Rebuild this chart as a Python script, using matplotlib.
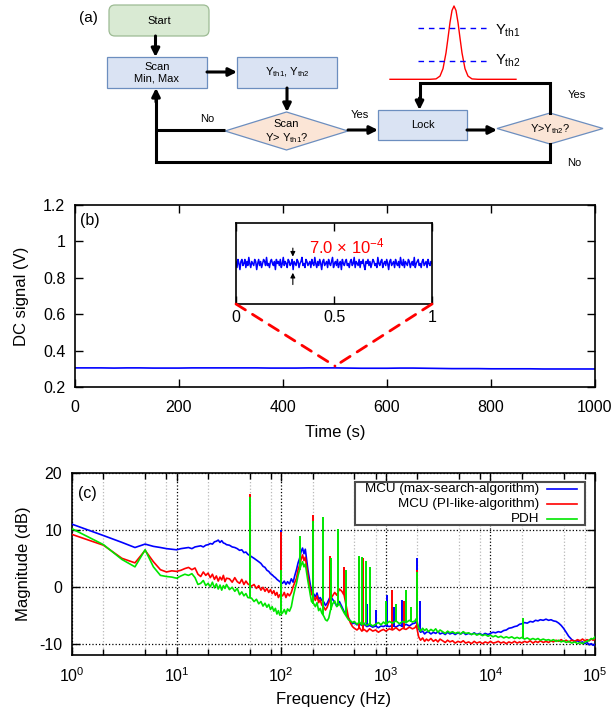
import matplotlib
matplotlib.use('Agg')
import matplotlib.pyplot as plt
import numpy as np
from matplotlib.patches import FancyBboxPatch, Polygon, Rectangle, ConnectionPatch
from matplotlib.ticker import LogLocator, NullFormatter, LogFormatterMathtext

plt.rcParams['font.family'] = ['Liberation Sans', 'DejaVu Sans']
plt.rcParams['mathtext.fontset'] = 'custom'
plt.rcParams['mathtext.rm'] = 'Liberation Sans'
plt.rcParams['mathtext.it'] = 'Liberation Sans:italic'
plt.rcParams['mathtext.bf'] = 'Liberation Sans:bold'
plt.rcParams['axes.unicode_minus'] = False

# ---------------- DATA ----------------
# (a) sketch of the transmission peak with the two thresholds
pulse_x = [390, 430, 436, 440, 443, 446, 448, 450, 452, 454, 456, 458, 460, 462, 465, 468, 472, 478, 516]
pulse_y = [79.3, 79.3, 78.9, 76.1, 68.7, 52.9, 38.0, 22.5, 10.5, 6.0, 10.5, 22.5, 38.0, 52.9, 68.7, 76.1, 78.9, 79.3, 79.3]

# (b) DC signal over 1000 s, one value every 25 s
dc_signal = [0.305, 0.305, 0.305, 0.304, 0.305, 0.305, 0.304, 0.304, 0.304, 0.305,
             0.305, 0.305, 0.305, 0.305, 0.305, 0.304, 0.304, 0.304, 0.305, 0.305,
             0.305, 0.304, 0.303, 0.303, 0.303, 0.304, 0.304, 0.303, 0.302, 0.301,
             0.301, 0.301, 0.300, 0.300, 0.300, 0.300, 0.299, 0.299, 0.299, 0.299, 0.299]
time_ticks = [0, 200, 400, 600, 800, 1000]
dc_ticks = [0.2, 0.4, 0.6, 0.8, 1.0, 1.2]
dc_tick_labels = ['0.2', '0.4', '0.6', '0.8', '1', '1.2']

# inset: 1 s zoom, deviation in units of 1e-4 V around 0.305 V
inset_dev = [1, -2, 2, 0, -3, 1, 2, -1, 0, 2, -2, 1, -1, 3, 0, -2, 1, 0, -1, 2,
             1, -3, 0, 2, -1, 1, -2, 0, 2, 1, -1, 3, -1, 0, -2, 1, 2, 0, -1, 1,
             -3, 2, 0, 1, -1, 2, -2, 0, 3, -1, 1, 0, -2, 2, 1, -1, 0, 2, -3, 1,
             0, -1, 2, 1, -2, 0, 1, 3, -1, 0, -2, 2, 1, -1, 0, 1, -2, 2, 0, -1,
             3, 0, -2, 1, -1, 2, 0, -3, 1, 2, -1, 0, 1, -2, 2, 0, -1, 1, 3, -2,
             0, 1, -1, 2, -2, 0, 1, -3, 2, 0, -1, 1, 2, -1, 0, -2, 1, 2, -1, 0,
             3, -2, 1, 0, -1, 2, -2, 1, 0, 2, -1, -3, 1, 0, 2, -1, 1, -2, 0, 2,
             1, -1, 0, -2, 3, 0, -1, 1, 2, -2, 0, 1, -1, 2, 0, -3, 1, 2, -1, 0,
             1, -2, 2, 0, -1, 1, -2, 3, 0, -1, 2, -2, 1, 0, -1, 2, 1, -2, 0, 1,
             -1, 3, -2, 0, 1, 2, -1, 0, -2, 1, 2, -1, 0, 1, -2, 2, 0, -1, 1, 0]

# (c) noise spectra
freq = [1, 2, 3, 4, 5, 6, 7, 8, 9, 10,
        11, 12, 13, 14, 15, 16, 17, 18, 19, 20,
        21, 22, 23, 24, 25, 26, 27, 28, 29, 30,
        32, 34, 36, 38, 40, 42, 44, 46, 48, 52,
        55, 58, 61, 64, 67, 70, 73, 76, 79, 82,
        85, 88, 91, 94, 97, 103, 107, 111, 115, 120,
        125, 130, 135, 140, 145, 150, 155, 160, 165, 170,
        175, 180, 185, 190, 195, 205, 212, 220, 228, 236,
        244, 256, 265, 275, 285, 295, 310, 325, 340, 360,
        380, 400, 420, 440, 460, 480, 500, 530, 560, 590,
        620, 660, 700, 750, 800, 850, 900, 950, 1000, 1080,
        1160, 1250, 1350, 1450, 1560, 1680, 1800, 1900, 1960, 2060,
        2150, 2250, 2350, 2450, 2550, 2700, 2850, 3000, 3150, 3300,
        3500, 3700, 3900, 4100, 4350, 4600, 4900, 5200, 5500, 5800,
        6200, 6600, 7000, 7400, 7900, 8400, 8900, 9500, 10000, 10600,
        11200, 11900, 12600, 13400, 14200, 15000, 16000, 17000, 18000, 19000,
        20000, 21200, 22500, 24000, 25500, 27000, 28500, 30000, 32000, 34000,
        36000, 38000, 40000, 42500, 45000, 47500, 50000, 53000, 56000, 60000,
        64000, 68000, 72000, 76000, 80000, 84000, 88000, 92000, 96000, 100000]

mag_max_search = [11.0, 9.0, 7.8, 6.9, 7.5, 7.1, 6.9, 6.7, 6.6, 6.5,
                  6.7, 6.8, 6.9, 6.7, 7.0, 7.1, 7.2, 7.0, 7.3, 7.4,
                  7.6, 7.5, 7.9, 8.0, 8.2, 7.8, 8.1, 7.7, 7.6, 7.4,
                  7.3, 7.0, 6.9, 6.7, 6.4, 6.5, 6.0, 6.1, 5.7, 5.3,
                  5.0, 4.7, 4.4, 4.1, 3.6, 3.4, 2.9, 2.7, 2.3, 2.1,
                  1.8, 1.6, 1.3, 1.1, 0.9, 0.6, 1.0, 0.4, 0.9, 0.5,
                  1.4, 0.8, 2.0, 3.0, 4.2, 5.0, 6.2, 6.8, 5.8, 6.6,
                  4.8, 3.0, 1.6, 0.3, -0.8, -1.3, -1.8, -1.1, -2.2, -1.9,
                  -2.4, -2.7, -3.3, -2.9, -2.3, -1.7, -2.2, -2.8, -3.4, -2.6,
                  -3.5, -4.4, -5.0, -5.5, -6.1, -6.5, -6.3, -6.7, -6.5, -6.8,
                  -6.6, -7.0, -6.8, -7.1, -6.9, -7.2, -6.9, -7.0, -6.8, -7.0,
                  -6.8, -7.1, -6.7, -7.0, -6.6, -6.9, -6.5, -6.4, -6.0, -7.4,
                  -8.0, -7.8, -8.3, -8.0, -7.9, -8.3, -8.0, -8.2, -7.9, -8.3,
                  -8.1, -8.4, -8.0, -8.3, -8.1, -8.4, -8.1, -8.3, -8.0, -8.4,
                  -8.2, -8.4, -8.1, -8.4, -8.2, -8.5, -8.2, -8.4, -8.2, -8.0,
                  -8.1, -7.9, -8.0, -7.7, -7.6, -7.3, -7.2, -7.0, -6.9, -6.6,
                  -6.5, -6.3, -6.4, -6.1, -6.2, -5.9, -6.0, -5.8, -5.9, -5.7,
                  -5.9, -5.8, -6.0, -6.1, -6.4, -6.8, -7.3, -8.0, -8.7, -9.3,
                  -9.6, -9.5, -9.8, -9.7, -10.0, -9.8, -10.2, -10.0, -10.3, -10.1]

mag_pi_like = [9.2, 7.3, 5.0, 4.2, 6.4, 4.4, 3.0, 2.6, 2.8, 2.7,
               2.9, 3.2, 3.4, 3.0, 3.3, 2.2, 1.8, 2.6, 2.0, 2.4,
               1.6, 2.2, 1.3, 1.9, 1.0, 1.7, 1.2, 2.0, 0.9, 1.5,
               1.4, 0.8, 1.6, 0.9, 0.6, 1.3, 0.4, 1.0, 0.5, 0.1,
               0.4, -0.3, 0.2, -0.6, -0.1, -0.8, -0.3, -1.0, -0.5, -1.2,
               -0.7, -1.5, -1.0, -1.9, -1.4, -1.6, -1.0, -1.9, -1.2, -1.6,
               -1.0, 0.0, 0.8, 1.5, 3.0, 3.8, 4.8, 5.6, 4.6, 5.2,
               3.5, 2.0, 0.6, -0.5, -1.3, -1.8, -2.4, -1.6, -2.8, -2.3,
               -3.2, -3.6, -4.1, -3.6, -2.8, -2.2, -1.6, -1.0, -1.5, -0.4,
               -0.8, -1.5, -3.5, -5.5, -6.4, -7.0, -7.3, -7.6, -7.2, -7.8,
               -7.5, -7.9, -7.4, -7.8, -7.6, -8.0, -7.7, -7.5, -7.8, -7.4,
               -7.6, -7.2, -7.7, -7.3, -7.5, -7.1, -7.4, -7.2, -6.8, -8.8,
               -9.4, -9.0, -9.6, -9.2, -9.5, -9.1, -9.6, -9.3, -9.7, -9.2,
               -9.5, -9.8, -9.4, -9.7, -9.5, -9.9, -9.6, -9.8, -9.5, -9.9,
               -9.7, -10.0, -9.6, -9.9, -9.7, -10.0, -9.7, -9.9, -9.6, -9.9,
               -9.8, -9.6, -9.9, -9.7, -10.0, -9.7, -9.9, -9.6, -9.9, -9.7,
               -9.9, -9.6, -9.8, -9.5, -9.9, -9.6, -9.8, -9.5, -9.8, -9.6,
               -9.8, -9.5, -9.7, -9.4, -9.6, -9.3, -9.6, -9.4, -9.7, -9.4,
               -9.6, -9.3, -9.5, -9.2, -9.5, -9.3, -9.5, -9.2, -9.4, -9.2]

mag_pdh = [10.2, 7.4, 4.8, 3.5, 6.5, 3.5, 2.0, 1.8, 1.7, 1.5,
           1.9, 2.2, 2.0, 2.3, 1.6, 0.4, 0.6, 1.1, 0.2, 0.6,
           0.0, 0.8, -0.2, 0.5, -0.4, 0.3, -0.6, 0.2, -0.3, 0.4,
           -0.5, -0.1, -0.8, -0.3, -1.4, -0.9, -1.6, -1.2, -1.9, -2.0,
           -2.6, -2.2, -3.0, -2.6, -3.4, -2.9, -3.6, -3.1, -4.0, -3.5,
           -4.3, -3.8, -4.8, -4.2, -5.0, -4.6, -4.0, -4.8, -3.9, -4.3,
           -3.5, -1.8, -0.5, 0.6, 2.0, 3.0, 3.8, 4.4, 3.5, 4.0,
           2.5, 1.0, -0.2, -1.5, -2.6, -3.0, -3.5, -2.8, -4.2, -3.8,
           -4.6, -5.2, -5.8, -6.0, -5.5, -4.2, -3.0, -2.5, -3.5, -3.0,
           -3.8, -4.6, -5.2, -5.8, -6.0, -6.3, -6.1, -6.6, -6.2, -6.7,
           -6.4, -6.8, -6.5, -6.9, -6.6, -6.3, -6.7, -6.2, -6.6, -6.1,
           -6.4, -6.0, -6.5, -6.1, -6.3, -5.9, -6.2, -6.0, -5.6, -7.2,
           -7.8, -7.3, -7.7, -7.4, -7.9, -7.5, -7.8, -7.4, -8.0, -7.6,
           -7.9, -8.2, -7.8, -8.1, -7.9, -8.2, -8.0, -8.3, -7.9, -8.2,
           -8.1, -8.4, -8.2, -8.5, -8.3, -8.6, -8.4, -8.7, -8.5, -8.8,
           -8.6, -8.9, -8.7, -9.0, -8.8, -9.0, -8.8, -9.1, -8.9, -9.1,
           -8.9, -9.2, -9.0, -9.3, -9.1, -9.3, -9.1, -9.4, -9.2, -9.4,
           -9.3, -9.5, -9.3, -9.6, -9.4, -9.7, -9.5, -9.8, -9.6, -9.9,
           -9.7, -10.0, -9.8, -10.0, -9.7, -9.6, -9.4, -9.1, -9.2, -8.8]

# narrow spectral lines: frequency, foot and top (dB)
spike_max_f = [50, 100, 660, 800, 1030, 1200, 1420, 1980, 2100]
spike_max_lo = [5.4, 0.8, -7.0, -7.0, -7.0, -7.0, -7.0, -6.5, -8.0]
spike_max_hi = [15.5, 10.0, -3.0, -4.0, -1.5, -3.5, -2.4, 5.1, -2.5]

spike_pi_f = [50, 100, 200, 290, 400, 560, 600, 1140, 1500, 1980]
spike_pi_lo = [0.3, -1.6, -1.5, -2.5, -1.5, -7.4, -7.6, -7.5, -7.3, -7.0]
spike_pi_hi = [16.3, 9.7, 12.6, 5.4, 3.5, 5.3, 5.0, -0.6, -2.5, 3.0]

spike_pdh_f = [50, 100, 150, 200, 250, 300, 350, 415, 550, 590, 640, 700, 1000, 1260, 1560, 1760, 1980, 20300]
spike_pdh_lo = [-2.0, -4.6, 3.0, -3.0, -5.0, -4.0, -3.0, -5.0, -6.3, -6.5, -6.4, -6.5, -6.5, -6.2, -6.2, -6.2, -6.0, -9.0]
spike_pdh_hi = [15.8, 3.0, 8.9, 11.5, 12.3, 5.0, 10.1, 2.9, 5.4, 5.2, 4.6, 3.5, -2.5, -3.0, -0.6, -3.5, 2.6, -5.5]

legend_labels = ['MCU (max-search-algorithm)', 'MCU (PI-like-algorithm)', 'PDH']
series_colors = ['#0000ff', '#ff0000', '#00e600']

# ---------------- FIGURE ----------------
W, H = 614, 711
fig = plt.figure(figsize=(W / 100, H / 100), dpi=100)


def px_axes(left, top, right, bottom):
    return fig.add_axes([left / W, 1 - bottom / H, (right - left) / W, (bottom - top) / H])


# ---- (a) flow chart, drawn in pixel coordinates ----
ax_a = px_axes(0, 0, W, 175)
ax_a.set_xlim(0, W)
ax_a.set_ylim(175, 0)
ax_a.axis('off')

box_fc, box_ec = '#dae3f3', '#6c8ebf'
dia_fc = '#fbe5d6'
LW = 2.2


def box(x0, y0, x1, y1, text, fc=box_fc, ec=box_ec, rounded=False):
    if rounded:
        p = FancyBboxPatch((x0, y0), x1 - x0, y1 - y0, boxstyle='round,pad=0,rounding_size=6',
                           fc=fc, ec=ec, lw=0.9)
    else:
        p = Rectangle((x0, y0), x1 - x0, y1 - y0, fc=fc, ec=ec, lw=0.9)
    ax_a.add_patch(p)
    ax_a.text((x0 + x1) / 2, (y0 + y1) / 2, text, ha='center', va='center', fontsize=8, linespacing=1.15)


def diamond(x0, y0, x1, y1, text):
    cx, cy = (x0 + x1) / 2, (y0 + y1) / 2
    ax_a.add_patch(Polygon([(x0, cy), (cx, y0), (x1, cy), (cx, y1)], closed=True,
                           fc=dia_fc, ec=box_ec, lw=0.9))
    ax_a.text(cx, cy + 1, text, ha='center', va='center', fontsize=8, linespacing=1.15)


def arrow(x0, y0, x1, y1):
    ax_a.annotate('', xy=(x1, y1), xytext=(x0, y0),
                  arrowprops=dict(arrowstyle='-|>', color='k', lw=LW, mutation_scale=12,
                                  shrinkA=0, shrinkB=0))


box(109, 5, 209, 36, 'Start', fc='#d9ead3', ec='#9dbb94', rounded=True)
box(107, 57, 207, 88, 'Scan\nMin, Max')
box(237, 57, 337, 88, r'Y$_{\mathregular{th1}}$, Y$_{\mathregular{th2}}$')
diamond(225, 112, 348, 150, 'Scan\n' + r'Y> Y$_{\mathregular{th1}}$?')
box(378, 110, 467, 140, 'Lock')
diamond(497, 113, 603, 144, r'Y>Y$_{\mathregular{th2}}$?')

arrow(155.5, 36, 155.5, 57)
arrow(207, 72, 237, 72)
arrow(287, 88, 287, 112)
arrow(348, 130, 378, 130)
arrow(467, 130, 497, 130)
# No branch of the first test and the final No branch back to "Scan"
ax_a.plot([225, 156], [130, 130], color='k', lw=LW, solid_capstyle='butt')
ax_a.plot([550, 550, 156, 156], [144, 162, 162, 100], color='k', lw=LW, solid_joinstyle='miter')
arrow(156, 102, 156, 88)
# Yes loop back to "Lock"
ax_a.plot([550, 550, 419.5, 419.5], [113, 83, 83, 100], color='k', lw=LW, solid_joinstyle='miter')
arrow(419.5, 98, 419.5, 110)

ax_a.text(207, 119, 'No', ha='center', va='center', fontsize=8)
ax_a.text(360, 115, 'Yes', ha='center', va='center', fontsize=8)
ax_a.text(577, 95, 'Yes', ha='center', va='center', fontsize=8)
ax_a.text(574, 163, 'No', ha='center', va='center', fontsize=8)
ax_a.text(88, 18, '(a)', ha='center', va='center', fontsize=11)

# peak sketch
ax_a.plot(pulse_x, pulse_y, color='red', lw=1)
ax_a.plot([418, 487], [28, 28], color='blue', lw=1, dashes=(4, 3.5))
ax_a.plot([418, 487], [61, 61], color='blue', lw=1, dashes=(4, 3.5))
ax_a.text(495, 31, r'Y$_{\mathregular{th1}}$', ha='left', va='center', fontsize=10.5)
ax_a.text(495, 61, r'Y$_{\mathregular{th2}}$', ha='left', va='center', fontsize=10.5)

# ---- (b) DC signal ----
TICK_FS = 11.5
LAB_FS = 12
ax_b = px_axes(75, 205, 595, 387)
time_s = np.arange(len(dc_signal)) * 25
ax_b.plot(time_s, dc_signal, color='blue', lw=1.2)
ax_b.set_xlim(0, 1000)
ax_b.set_ylim(0.2, 1.2)
ax_b.set_xticks(time_ticks)
ax_b.set_xticklabels([str(t) for t in time_ticks])
ax_b.set_yticks(dc_ticks)
ax_b.set_yticklabels(dc_tick_labels)
ax_b.tick_params(direction='in', top=True, right=True, length=6, width=1, labelsize=TICK_FS)
ax_b.tick_params(axis='x', pad=9)
ax_b.tick_params(axis='y', pad=7)
for s in ax_b.spines.values():
    s.set_linewidth(1.2)
ax_b.set_xlabel('Time (s)', fontsize=LAB_FS, va='center')
ax_b.xaxis.set_label_coords(0.5, -0.25)
ax_b.set_ylabel('DC signal (V)', fontsize=LAB_FS, va='center')
ax_b.yaxis.set_label_coords(-0.102, 0.5)
ax_b.text(0.01, 0.915, '(b)', transform=ax_b.transAxes, ha='left', va='center', fontsize=11.5)

# inset
ax_in = px_axes(236, 223, 432, 304)
inset_t = np.linspace(0, 1, len(inset_dev))
inset_v = 0.305 + np.array(inset_dev) * 1e-4
ax_in.plot(inset_t, inset_v, color='blue', lw=1.1)
ax_in.set_xlim(0, 1)
ax_in.set_ylim(0.305 - 0.002, 0.305 + 0.002)
ax_in.set_xticks([0, 0.5, 1])
ax_in.set_xticklabels(['0', '0.5', '1'])
ax_in.set_yticks([])
ax_in.tick_params(direction='in', top=True, length=6, width=1, labelsize=TICK_FS, pad=4)
for s in ax_in.spines.values():
    s.set_linewidth(1.2)
ax_in.annotate('', xy=(0.29, 0.585), xytext=(0.29, 0.69), xycoords='axes fraction',
               arrowprops=dict(arrowstyle='-|>', color='k', lw=0.8, mutation_scale=7, shrinkA=0, shrinkB=0))
ax_in.annotate('', xy=(0.29, 0.385), xytext=(0.29, 0.24), xycoords='axes fraction',
               arrowprops=dict(arrowstyle='-|>', color='k', lw=0.8, mutation_scale=7, shrinkA=0, shrinkB=0))
ax_in.text(0.37, 0.71, r'7.0 $\times$ 10$^{-4}$', transform=ax_in.transAxes, color='red',
           ha='left', va='center', fontsize=12)

for xa in (0, 1):
    con = ConnectionPatch(xyA=(xa, 0), coordsA=ax_in.transAxes, xyB=(500, 0.315), coordsB=ax_b.transData,
                          color='red', lw=2, linestyle=(0, (4, 3)))
    fig.add_artist(con)

# ---- (c) spectra ----
ax_c = px_axes(72, 473, 595, 655)
ax_c.set_xscale('log')
ax_c.set_xlim(1, 1e5)
ax_c.set_ylim(-12, 20)
ax_c.xaxis.set_major_locator(LogLocator(base=10, numticks=10))
ax_c.xaxis.set_major_formatter(LogFormatterMathtext())
ax_c.xaxis.set_minor_locator(LogLocator(base=10, subs=(2, 5, 8), numticks=10))
ax_c.xaxis.set_minor_formatter(NullFormatter())
ax_c.set_yticks([-10, 0, 10, 20])
ax_c.grid(True, which='minor', axis='x', color='0.72', ls=':', lw=0.9)
ax_c.grid(True, which='major', axis='x', color='k', ls=':', lw=0.9)
ax_c.grid(True, which='major', axis='y', color='k', ls=':', lw=0.9)
ax_c.tick_params(which='both', direction='in', top=True, right=True, width=1, labelsize=TICK_FS)
ax_c.tick_params(which='major', length=6)
ax_c.tick_params(which='minor', length=4)
ax_c.tick_params(axis='x', pad=8)
ax_c.tick_params(axis='y', pad=7)
for s in ax_c.spines.values():
    s.set_linewidth(1.2)

all_series = [
    (mag_max_search, spike_max_f, spike_max_lo, spike_max_hi),
    (mag_pi_like, spike_pi_f, spike_pi_lo, spike_pi_hi),
    (mag_pdh, spike_pdh_f, spike_pdh_lo, spike_pdh_hi),
]
for k, ((mag, sf, slo, shi), col) in enumerate(zip(all_series, series_colors)):
    ax_c.plot(freq, mag, color=col, lw=1.2, zorder=3 + k)
    ax_c.vlines(sf, slo, shi, color=col, lw=1.4, zorder=3 + k)

ax_c.set_xlabel('Frequency (Hz)', fontsize=LAB_FS, va='center')
ax_c.xaxis.set_label_coords(0.5, -0.247)
ax_c.set_ylabel('Magnitude (dB)', fontsize=LAB_FS, va='center')
ax_c.yaxis.set_label_coords(-0.092, 0.5)
ax_c.text(0.012, 0.89, '(c)', transform=ax_c.transAxes, ha='left', va='center', fontsize=11.5, zorder=8)

# gnuplot-style key: text right aligned, sample line on the right
ax_c.add_patch(Rectangle((0.541, 0.714), 0.44, 0.238, transform=ax_c.transAxes,
                         fc='white', ec='0.3', lw=1.5, zorder=9))
for lab, col, yk in zip(legend_labels, series_colors, [0.912, 0.832, 0.75]):
    ax_c.text(0.893, yk, lab, transform=ax_c.transAxes, ha='right', va='center', fontsize=9.7, zorder=10)
    ax_c.plot([0.909, 0.966], [yk, yk], transform=ax_c.transAxes, color=col, lw=1.2, zorder=10)

fig.savefig('out.png', dpi=100)
